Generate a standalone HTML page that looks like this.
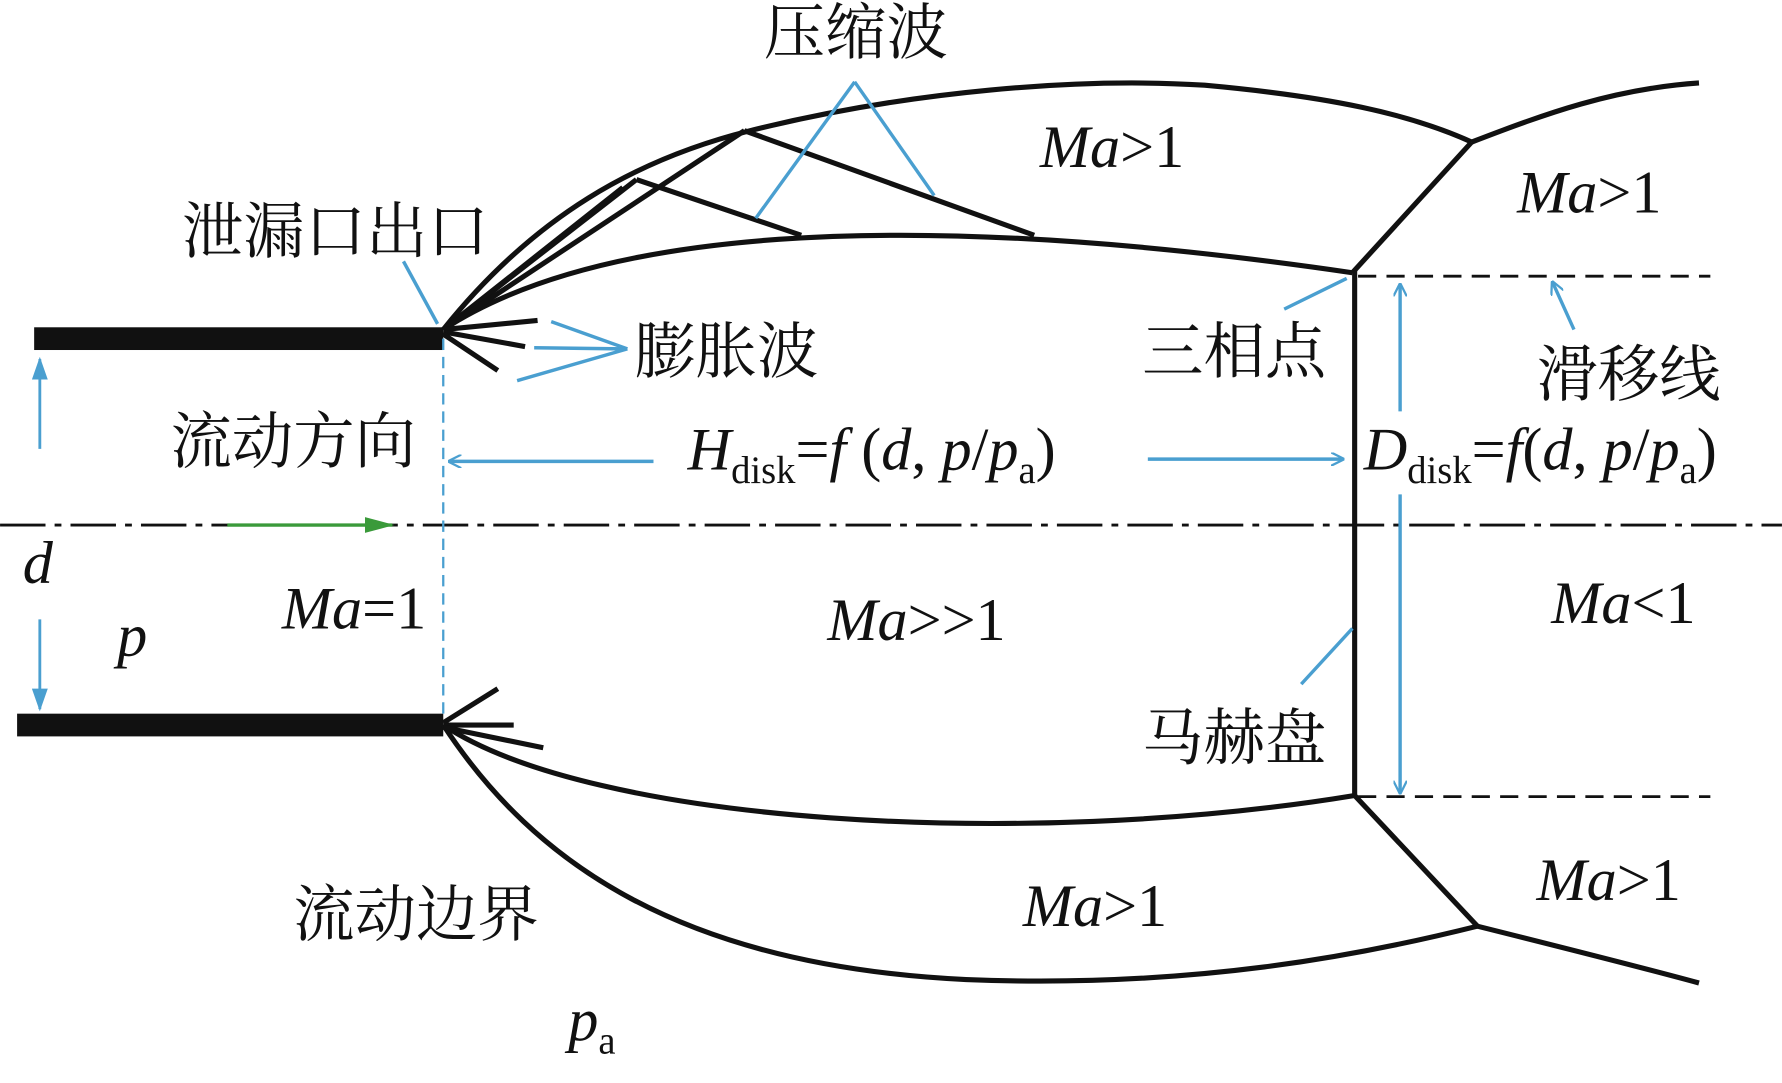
<!DOCTYPE html>
<html><head><meta charset="utf-8"><style>
html,body{margin:0;padding:0;background:#fff;}
svg{display:block;}
text{font-family:"Liberation Serif","Noto Serif CJK SC",serif;font-size:53px;fill:#111;}
.c{font-family:"Liberation Serif","Noto Serif CJK SC",serif;font-size:54px;}
.i{font-style:italic;}
</style></head><body>
<svg width="1782" height="1083" viewBox="0 0 1568 953" xmlns="http://www.w3.org/2000/svg">
<defs>
<marker id="ab" markerWidth="12" markerHeight="12" refX="11" refY="6" orient="auto" markerUnits="userSpaceOnUse" viewBox="0 0 12 12"><path d="M0,0 L12,6 L0,12" fill="none" stroke="#4a9fd0" stroke-width="2"/></marker>
<marker id="ag" markerWidth="26" markerHeight="14" refX="24" refY="7" orient="auto" markerUnits="userSpaceOnUse"><path d="M0,0 L26,7 L0,14 Z" fill="#3a9a3a"/></marker>
<marker id="abf" markerWidth="20" markerHeight="14" refX="18" refY="7" orient="auto" markerUnits="userSpaceOnUse"><path d="M0,0 L20,7 L0,14 Z" fill="#4a9fd0"/></marker>
</defs>
<rect x="30" y="288" width="360" height="20" fill="#111"/>
<rect x="15" y="628" width="375" height="20" fill="#111"/>
<line x1="0" y1="462" x2="1568" y2="462" stroke="#111" stroke-width="2.5" stroke-dasharray="40,8,6,8"/>
<line x1="200" y1="462" x2="345" y2="462" stroke="#3a9a3a" stroke-width="3" marker-end="url(#ag)"/>
<line x1="35" y1="395" x2="35" y2="316" stroke="#4a9fd0" stroke-width="2.5" marker-end="url(#abf)"/>
<line x1="35" y1="545" x2="35" y2="624" stroke="#4a9fd0" stroke-width="2.5" marker-end="url(#abf)"/>
<line x1="390" y1="298" x2="390" y2="630" stroke="#4a9fd0" stroke-width="2" stroke-dasharray="10,6"/>
<g fill="none" stroke="#111" stroke-width="4.5">
<path d="M390,290 C470,190 560,140 660,115 C800,80 950,68 1060,75 C1170,85 1240,100 1295,125"/>
<path d="M1295,125 C1360,100 1420,78 1495,73"/>
<path d="M390,290 C520,205 780,180 1190,240"/>
<line x1="1190" y1="240" x2="1295" y2="125"/>
<line x1="1192" y1="238" x2="1192" y2="702"/>
<path d="M390,638 C520,725 900,748 1192,700"/>
<path d="M390,638 C470,760 600,850 850,862 C1050,870 1200,840 1300,815"/>
<line x1="1192" y1="700" x2="1300" y2="815"/>
<path d="M1300,815 C1380,835 1440,850 1495,865"/>
<line x1="390" y1="290" x2="560" y2="158"/>
<line x1="390" y1="290" x2="548" y2="165"/>
<line x1="390" y1="290" x2="655" y2="115"/>
<line x1="560" y1="158" x2="705" y2="207"/>
<line x1="655" y1="115" x2="910" y2="207"/>
<line x1="390" y1="290" x2="473" y2="282"/>
<line x1="390" y1="292" x2="462" y2="305"/>
<line x1="390" y1="294" x2="438" y2="326"/>
<line x1="390" y1="636" x2="438" y2="606"/>
<line x1="390" y1="638" x2="452" y2="638"/>
<line x1="390" y1="640" x2="478" y2="658"/>
</g>
<line x1="1195" y1="243" x2="1505" y2="243" stroke="#111" stroke-width="2.5" stroke-dasharray="16,9"/>
<line x1="1195" y1="701" x2="1505" y2="701" stroke="#111" stroke-width="2.5" stroke-dasharray="16,9"/>
<g stroke="#4a9fd0" stroke-width="3" fill="none">
<line x1="385" y1="285" x2="355" y2="230"/>
<line x1="485" y1="283" x2="552" y2="307"/>
<line x1="552" y1="307" x2="455" y2="335"/>
<line x1="470" y1="306" x2="548" y2="307"/>
<line x1="752" y1="72" x2="665" y2="192"/>
<line x1="752" y1="72" x2="822" y2="172"/>
<line x1="1130" y1="272" x2="1185" y2="245"/>
<line x1="1385" y1="290" x2="1366" y2="248" marker-end="url(#ab)"/>
<line x1="1145" y1="602" x2="1190" y2="553"/>
<line x1="1232" y1="362" x2="1232" y2="250" marker-end="url(#ab)"/>
<line x1="1232" y1="435" x2="1232" y2="698" marker-end="url(#ab)"/>
<line x1="575" y1="406" x2="395" y2="406" marker-end="url(#ab)"/>
<line x1="1010" y1="404" x2="1182" y2="404" marker-end="url(#ab)"/>
</g>
<text class="c" x="672" y="47">压缩波</text>
<text class="c" x="160" y="222">泄漏口出口</text>
<text class="c" x="558" y="328">膨胀波</text>
<text class="c" x="150" y="407">流动方向</text>
<text class="c" x="1005" y="328">三相点</text>
<text class="c" x="1352" y="348">滑移线</text>
<text class="c" x="1005" y="668">马赫盘</text>
<text class="c" x="258" y="823">流动边界</text>
<text x="605" y="413"><tspan class="i">H</tspan><tspan font-size="34" dy="12">disk</tspan><tspan dy="-12">=</tspan><tspan class="i">f</tspan> (<tspan class="i">d</tspan>, <tspan class="i">p</tspan>/<tspan class="i">p</tspan><tspan font-size="34" dy="12">a</tspan><tspan dy="-12">)</tspan></text>
<text x="1200" y="413"><tspan class="i">D</tspan><tspan font-size="34" dy="12">disk</tspan><tspan dy="-12">=</tspan><tspan class="i">f</tspan>(<tspan class="i">d</tspan>, <tspan class="i">p</tspan>/<tspan class="i">p</tspan><tspan font-size="34" dy="12">a</tspan><tspan dy="-12">)</tspan></text>
<text x="915" y="147"><tspan class="i">Ma</tspan>&gt;1</text>
<text x="1335" y="187"><tspan class="i">Ma</tspan>&gt;1</text>
<text x="20" y="513" class="i">d</text>
<text x="103" y="577" class="i">p</text>
<text x="248" y="553"><tspan class="i">Ma</tspan>=1</text>
<text x="728" y="563"><tspan class="i">Ma</tspan>&gt;&gt;1</text>
<text x="1365" y="548"><tspan class="i">Ma</tspan>&lt;1</text>
<text x="1352" y="792"><tspan class="i">Ma</tspan>&gt;1</text>
<text x="900" y="815"><tspan class="i">Ma</tspan>&gt;1</text>
<text x="500" y="915"><tspan class="i">p</tspan><tspan font-size="34" dy="12">a</tspan></text>
</svg>
</body></html>
